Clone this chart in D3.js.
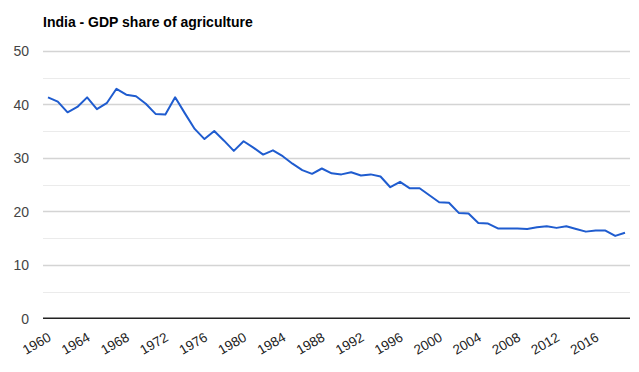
<!DOCTYPE html>
<html>
<head>
<meta charset="utf-8">
<script src="https://cdn.jsdelivr.net/npm/d3@7"></script>
<style>
  html, body { margin: 0; padding: 0; background: #fff; }
  svg { display: block; font-family: Arial, "Liberation Sans", sans-serif; }
</style>
</head>
<body>
<svg id="chart" width="639" height="372"></svg>
<script>
const title = "India - GDP share of agriculture";
const years = d3.range(1960, 2020);
const agriShare = [
  41.3, 40.5, 38.5, 39.5, 41.3, 39.1, 40.2, 42.9, 41.8, 41.5,
  40.1, 38.2, 38.1, 41.3, 38.3, 35.4, 33.5, 35.0, 33.2, 31.3,
  33.1, 31.9, 30.6, 31.4, 30.3, 28.9, 27.7, 27.0, 28.0, 27.1,
  26.9, 27.3, 26.7, 26.9, 26.5, 24.5, 25.5, 24.3, 24.3, 23.0,
  21.7, 21.6, 19.7, 19.6, 17.8, 17.7, 16.8, 16.8, 16.8, 16.7,
  17.0, 17.2, 16.9, 17.2, 16.7, 16.2, 16.4, 16.4, 15.4, 16.0
];
const yTicks = [0, 10, 20, 30, 40, 50];
const yMinorTicks = [5, 15, 25, 35, 45];
const xTickYears = [1960, 1964, 1968, 1972, 1976, 1980, 1984, 1988, 1992, 1996, 2000, 2004, 2008, 2012, 2016];

const data = years.map((y, i) => ({ year: y, value: agriShare[i] }));
const svg = d3.select("#chart");

const plotLeft = 43, plotRight = 630;
const x = d3.scaleLinear().domain([1960, 2019]).range([48, 625]);
const y = d3.scaleLinear().domain([0, 50]).range([318.3, 50.8]);

// title
svg.append("text")
  .attr("x", 43).attr("y", 27)
  .attr("font-size", 14).attr("font-weight", "bold").attr("fill", "#000")
  .text(title);

// minor gridlines
svg.append("g").selectAll("line").data(yMinorTicks).join("line")
  .attr("x1", plotLeft).attr("x2", plotRight)
  .attr("y1", d => Math.round(y(d)) + 0.5).attr("y2", d => Math.round(y(d)) + 0.5)
  .attr("stroke", "#ebebeb").attr("stroke-width", 1);

// major gridlines
svg.append("g").selectAll("line").data(yTicks.filter(d => d !== 0)).join("line")
  .attr("x1", plotLeft).attr("x2", plotRight)
  .attr("y1", d => Math.round(y(d)) + 0.5).attr("y2", d => Math.round(y(d)) + 0.5)
  .attr("stroke", "#d4d4d4").attr("stroke-width", 1.3);

// y axis labels
const yAxis = d3.axisLeft(y).tickValues(yTicks).tickSize(0).tickPadding(0);
const yg = svg.append("g").attr("transform", "translate(29,0)").call(yAxis);
yg.select(".domain").remove();
yg.selectAll("text").attr("font-size", 14).attr("fill", "#444")
  .attr("font-family", "Arial, 'Liberation Sans', sans-serif").attr("dy", "0.35em");

// line
svg.append("path").datum(data)
  .attr("fill", "none").attr("stroke", "#1f5ccf").attr("stroke-width", 2)
  .attr("stroke-linejoin", "round")
  .attr("d", d3.line().x(d => x(d.year)).y(d => y(d.value)));

// baseline
svg.append("line")
  .attr("x1", plotLeft).attr("x2", plotRight)
  .attr("y1", y(0)).attr("y2", y(0))
  .attr("stroke", "#222").attr("stroke-width", 1.5);

// x axis labels
const xAxis = d3.axisBottom(x).tickValues(xTickYears).tickFormat(d3.format("d")).tickSize(0);
const xg = svg.append("g").attr("transform", "translate(0,0)").call(xAxis);
xg.select(".domain").remove();
xg.selectAll(".tick").attr("transform", d => `translate(${x(d) + 4},340)`);
xg.selectAll("text")
  .attr("x", 0).attr("y", 0).attr("dy", 0)
  .attr("text-anchor", "end")
  .attr("transform", "rotate(-30)")
  .attr("font-size", 13.5).attr("fill", "#222")
  .attr("font-family", "Arial, 'Liberation Sans', sans-serif");
</script>
</body>
</html>
